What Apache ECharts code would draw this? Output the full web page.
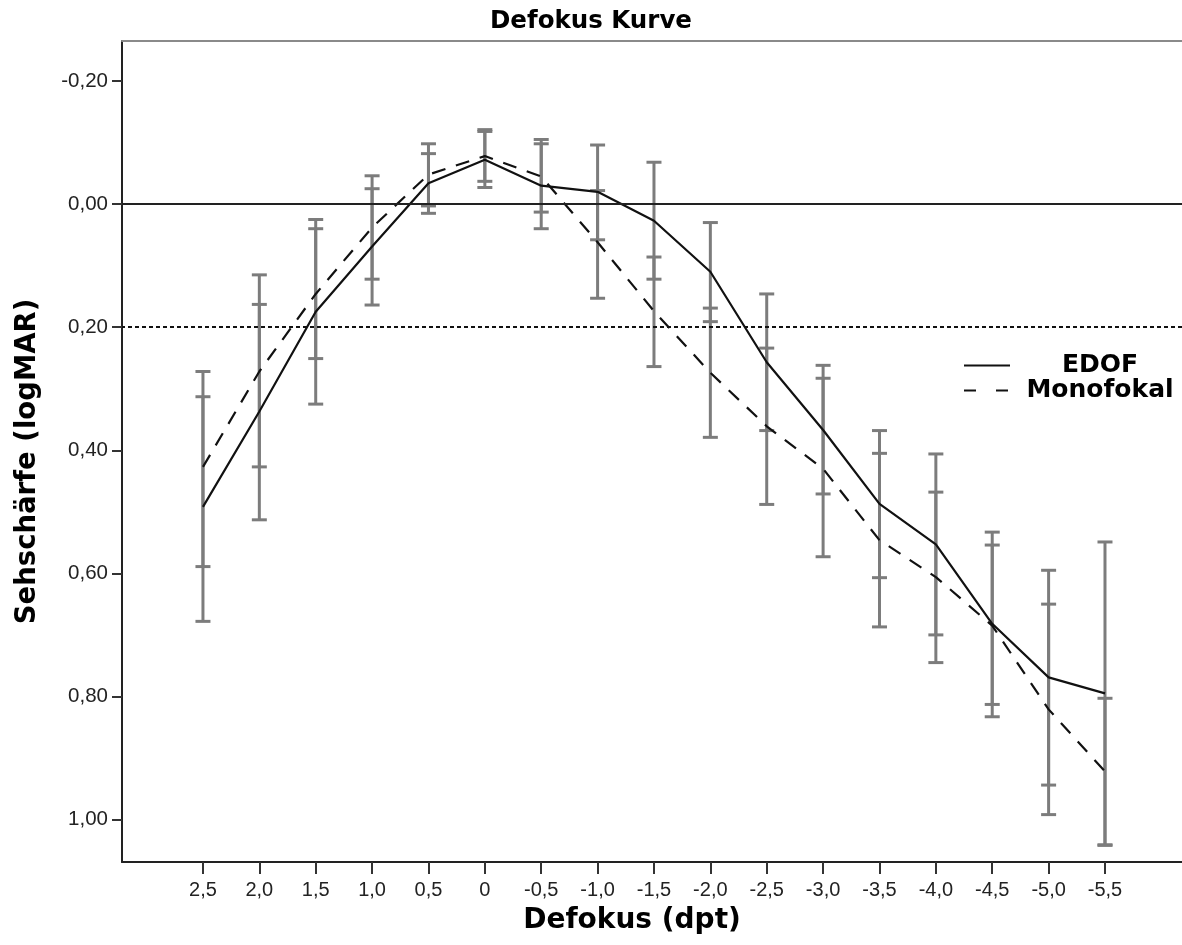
<!DOCTYPE html>
<html>
<head>
<meta charset="utf-8">
<title>Defokus Kurve</title>
<script src="https://cdn.jsdelivr.net/npm/echarts@6/dist/echarts.min.js"></script>
<style>
  html, body { margin: 0; padding: 0; background: #fff; }
  #chart { width: 1182px; height: 945px; }
</style>
</head>
<body>
<div id="chart"></div>
<script>
// Defokus in dpt
var defocus = [2.5, 2.0, 1.5, 1.0, 0.5, 0, -0.5, -1.0, -1.5, -2.0, -2.5, -3.0, -3.5, -4.0, -4.5, -5.0, -5.5]
var yTicks = [-0.2, 0, 0.2, 0.4, 0.6, 0.8, 1.0]

// EDOF (logMAR), mittelwert + fehlerbalken
var edofMean = [0.492, 0.337, 0.175, 0.069, -0.034, -0.072, -0.030, -0.020, 0.027, 0.110, 0.257, 0.367, 0.487, 0.553, 0.682, 0.769, 0.795]
var edofLow = [0.313, 0.163, 0.025, -0.025, -0.082, -0.118, -0.098, -0.096, -0.068, 0.030, 0.146, 0.262, 0.368, 0.406, 0.533, 0.595, 0.549]
var edofHigh = [0.678, 0.513, 0.325, 0.164, 0.015, -0.027, 0.040, 0.058, 0.122, 0.191, 0.368, 0.471, 0.607, 0.700, 0.833, 0.944, 1.042]

// Monofokal
var monoMean = [0.427, 0.272, 0.146, 0.038, -0.048, -0.078, -0.045, 0.062, 0.174, 0.274, 0.361, 0.430, 0.546, 0.606, 0.685, 0.821, 0.922]
var monoLow = [0.272, 0.115, 0.040, -0.046, -0.098, -0.121, -0.105, -0.022, 0.086, 0.169, 0.234, 0.283, 0.405, 0.468, 0.554, 0.650, 0.803]
var monoHigh = [0.589, 0.427, 0.251, 0.122, 0.003, -0.037, 0.013, 0.153, 0.264, 0.379, 0.488, 0.573, 0.687, 0.745, 0.813, 0.992, 1.041]

var titleFont = 'DejaVu Sans'
var tickFont = 'Liberation Sans'

// sichtbarer x-bereich (plot reicht bis zum rechten rand)
var xMin = -6.183
var xMax = 3.218

function pairs (xs, ys) {
  return xs.map(function (x, i) { return [x, ys[i]] })
}
function bars (xs, lo, hi) {
  return xs.map(function (x, i) { return [x, lo[i], hi[i]] })
}

// fehlerbalken mit kappen
function renderBar (params, api) {
  var x = api.value(0)
  var top = api.coord([x, api.value(1)])
  var bot = api.coord([x, api.value(2)])
  var half = 7.5
  var style = { stroke: '#7c7c7c', lineWidth: 3 }
  return {
    type: 'group',
    children: [
      { type: 'line', shape: { x1: top[0], y1: top[1], x2: bot[0], y2: bot[1] }, style: style },
      { type: 'line', shape: { x1: top[0] - half, y1: top[1], x2: top[0] + half, y2: top[1] }, style: style },
      { type: 'line', shape: { x1: bot[0] - half, y1: bot[1], x2: bot[0] + half, y2: bot[1] }, style: style }
    ]
  }
}

function fmtX (v) {
  if (v === 0) return '0'
  return v.toFixed(1).replace('.', ',')
}
function fmtY (v) {
  return v.toFixed(2).replace('.', ',')
}

var option = {
  animation: false,
  backgroundColor: '#fff',
  title: {
    text: 'Defokus Kurve',
    left: 'center',
    top: 4,
    textStyle: { fontFamily: titleFont, fontWeight: 'bold', fontSize: 24.5, color: '#000' }
  },
  grid: {
    left: 122,
    top: 41,
    right: 0,
    bottom: 83
  },
  legend: {
    orient: 'vertical',
    left: 958,
    top: 348,
    itemWidth: 46,
    itemHeight: 14,
    itemGap: 0,
    itemStyle: { opacity: 0 },
    data: [
      { name: 'EDOF' },
      { name: 'Monofokal', lineStyle: { type: [12, 20] } }
    ],
    formatter: function (name) { return '{a|' + name + '}' },
    textStyle: {
      rich: {
        a: {
          width: 170,
          align: 'center',
          lineHeight: 30,
          fontFamily: titleFont,
          fontWeight: 'bold',
          fontSize: 25,
          color: '#000'
        }
      }
    }
  },
  xAxis: [
    {
      type: 'value',
      inverse: true,
      min: xMin,
      max: xMax,
      name: 'Defokus (dpt)',
      nameLocation: 'middle',
      nameGap: 45,
      nameTextStyle: {
        fontFamily: titleFont, fontWeight: 'bold', fontSize: 28, color: '#000',
        padding: [0, 40, 0, 0]
      },
      axisLine: { onZero: false, lineStyle: { color: '#222', width: 2 } },
      axisTick: { customValues: defocus, length: 12, lineStyle: { color: '#333', width: 2 } },
      axisLabel: {
        customValues: defocus,
        formatter: fmtX,
        margin: 18,
        fontFamily: tickFont,
        fontSize: 20,
        color: '#222'
      },
      splitLine: { show: false }
    },
    {
      // obere rahmenlinie
      type: 'value',
      position: 'top',
      inverse: true,
      min: xMin,
      max: xMax,
      axisLine: { onZero: false, lineStyle: { color: '#8a8a8a', width: 2 } },
      axisTick: { show: false },
      axisLabel: { show: false },
      splitLine: { show: false }
    }
  ],
  yAxis: {
    type: 'value',
    inverse: true,
    min: -0.265,
    max: 1.069,
    name: 'Sehschärfe (logMAR)',
    nameLocation: 'middle',
    nameGap: 80,
    nameTextStyle: {
      fontFamily: titleFont, fontWeight: 'bold', fontSize: 27.5, color: '#000',
      padding: [0, 20, 0, 0]
    },
    axisLine: { onZero: false, lineStyle: { color: '#222', width: 2 } },
    axisTick: { customValues: yTicks, length: 10, lineStyle: { color: '#333', width: 2 } },
    axisLabel: {
      customValues: yTicks,
      formatter: fmtY,
      margin: 14,
      fontFamily: tickFont,
      fontSize: 20.5,
      color: '#222'
    },
    splitLine: { show: false }
  },
  series: [
    {
      name: 'EDOF-Fehler',
      type: 'custom',
      renderItem: renderBar,
      data: bars(defocus, edofLow, edofHigh),
      encode: { x: 0, y: [1, 2] },
      z: 2,
      silent: true
    },
    {
      name: 'Monofokal-Fehler',
      type: 'custom',
      renderItem: renderBar,
      data: bars(defocus, monoLow, monoHigh),
      encode: { x: 0, y: [1, 2] },
      z: 2,
      silent: true
    },
    {
      name: 'EDOF',
      type: 'line',
      data: pairs(defocus, edofMean),
      symbol: 'none',
      z: 4,
      lineStyle: { color: '#111', width: 2.2 },
      itemStyle: { color: '#111' },
      markLine: {
        silent: true,
        symbol: 'none',
        label: { show: false },
        data: [
          { yAxis: 0, lineStyle: { color: '#222', width: 2, type: 'solid' } },
          { yAxis: 0.2, lineStyle: { color: '#111', width: 2, type: [4, 3] } }
        ]
      }
    },
    {
      name: 'Monofokal',
      type: 'line',
      data: pairs(defocus, monoMean),
      symbol: 'none',
      z: 4,
      lineStyle: { color: '#111', width: 2.2, type: [14, 11] },
      itemStyle: { color: '#111' }
    }
  ]
}

echarts.init(document.getElementById('chart')).setOption(option)
</script>
</body>
</html>
